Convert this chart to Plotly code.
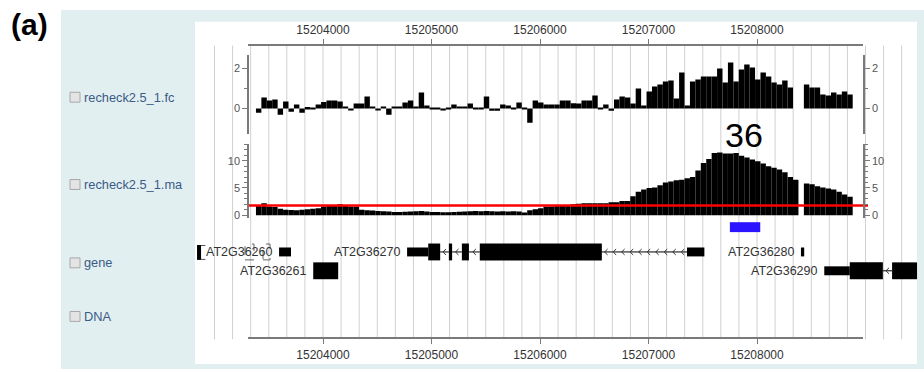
import numpy as np
import plotly.graph_objects as go

# ------------------------------------------------------------------ data
BIN_START = 15203382          # genomic start of the first probe bin (bp)
BIN_SIZE = 50                 # bp per bin

fc_values = [
    -0.2, 0.55, 0.4, 0.45, -0.3, 0.35, -0.15, 0.2, -0.2, 0.08,
    0.05, 0.2, 0.33, 0.4, 0.4, 0.35, 0.1, -0.05, 0.25, 0.25,
    0.6, 0.1, -0.05, 0.1, -0.3, 0.1, 0.1, 0.3, 0.4, 0.1,
    0.8, 0.15, 0.02, 0.05, -0.05, 0.05, 0.2, 0.1, 0.1, 0.25,
    0.05, 0.05, 0.6, -0.1, -0.1, 0.2, 0.15, 0.02, 0.3, 0.02,
    -0.7, 0.4, 0.3, 0.2, 0.2, 0.2, 0.4, 0.4, 0.27, 0.25,
    0.4, 0.4, 0.65, 0.05, 0.2, -0.1, 0.45, 0.6, 0.55, 0.25,
    1.0, 0.15, 0.85, 1.1, 1.2, 1.35, 1.4, 0.5, 1.8, 0.15,
    1.35, 1.45, 1.6, 1.6, 1.6, 2.0, 1.3, 2.3, 1.35, 1.95,
    2.2, 2.05, 1.45, 1.8, 1.6, 1.3, 1.2, 1.4, 1.05, None,
    None, 1.2, 1.05, 1.05, 0.7, 0.65, 0.8, 0.7, 0.85, 0.7,
]

ma_values = [
    1.8, 2.2, 1.6, 1.5, 1.2, 1.0, 0.95, 0.9, 1.0, 1.1,
    1.2, 1.3, 1.6, 1.7, 1.7, 2.0, 1.7, 1.6, 1.6, 1.0,
    0.9, 0.85, 0.8, 0.75, 0.7, 0.6, 0.6, 0.65, 0.7, 0.75,
    0.8, 0.7, 0.6, 0.6, 0.55, 0.55, 0.6, 0.65, 0.7, 0.75,
    0.8, 0.75, 0.8, 0.75, 0.7, 0.75, 0.7, 0.75, 0.7, 0.5,
    0.9, 1.1, 1.3, 1.6, 1.6, 1.7, 1.9, 1.9, 2.0, 2.1,
    2.2, 2.2, 2.2, 2.2, 2.2, 2.4, 2.4, 2.6, 2.6, 3.5,
    4.3, 4.7, 5.0, 5.1, 5.5, 6.0, 6.2, 6.4, 6.5, 6.8,
    7.0, 8.2, 9.6, 10.3, 11.4, 11.5, 11.3, 11.3, 11.4, 10.9,
    10.6, 10.2, 9.9, 9.5, 9.0, 8.7, 8.4, 7.9, 7.0, 6.5,
    None, 5.8, 5.7, 5.3, 5.1, 4.9, 4.7, 4.3, 3.8, 3.4,
]

MA_THRESHOLD = 1.8
PEAK_REGION = [15207750, 15208030]
PEAK_LABEL = "36"

X_TICK_VALS = [15204000, 15205000, 15206000, 15207000, 15208000]
X_TICK_TEXT = ["15204000", "15205000", "15206000", "15207000", "15208000"]
FC_TICKS = [0, 2]
MA_TICKS = [0, 5, 10]

TRACK_NAMES = ["recheck2.5_1.fc", "recheck2.5_1.ma", "gene", "DNA"]

GENE_NAMES = ["AT2G36260", "AT2G36261", "AT2G36270", "AT2G36280", "AT2G36290"]
GENE_ROWS = [0, 1, 0, 0, 1]
GENE_UTRS = [
    [[15203595, 15203705]],
    [],
    [[15204775, 15204970], [15207355, 15207515]],
    [[15208405, 15208435]],
    [[15208620, 15208855]],
]
GENE_CDS = [
    [],
    [[15203910, 15204140]],
    [[15204970, 15205080], [15205160, 15205190], [15205280, 15205345], [15205445, 15206570]],
    [],
    [[15208855, 15209160], [15209245, 15209475]],
]
PARTIAL_GENE = [15202839, 15202876]
OUTLINED_EXONS = [[15203281, 15203364], [15203447, 15203512]]

# ------------------------------------------------------------------ layout helpers
W, H = 924, 372
PX0, BP0, PX_PER_BP = 323, 15204000, 0.1085
FONT = "Arial, Liberation Sans, sans-serif"


def bp(px):
    return BP0 + (px - PX0) / PX_PER_BP


def py(p):
    return 1 - p / H


def pxx(p):
    return p / W


n = len(fc_values)
centers = BIN_START + BIN_SIZE * (np.arange(n) + 0.5)

fc_zero, fc_scale = 109.5, 20.25
fc_range = [(fc_zero - 135) / fc_scale, (fc_zero - 55) / fc_scale]
ma_zero, ma_scale = 217, 5.5
ma_range = [(ma_zero - 220) / ma_scale, (ma_zero - 145) / ma_scale]

fig = go.Figure()
fig.add_trace(go.Bar(x=centers, y=fc_values, width=BIN_SIZE, marker=dict(color="black", line=dict(width=0)),
                     xaxis="x", yaxis="y2", hoverinfo="skip"))
fig.add_trace(go.Scatter(x=[], y=[], xaxis="x", yaxis="y3"))
fig.add_trace(go.Bar(x=centers, y=ma_values, width=BIN_SIZE, marker=dict(color="black", line=dict(width=0)),
                     xaxis="x", yaxis="y4", hoverinfo="skip"))
fig.add_trace(go.Scatter(x=[bp(248), bp(868)], y=[MA_THRESHOLD, MA_THRESHOLD], mode="lines",
                         line=dict(color="#ff0000", width=2.5), xaxis="x", yaxis="y4", hoverinfo="skip"))
fig.add_trace(go.Scatter(x=[], y=[], xaxis="x", yaxis="y5"))
fig.add_trace(go.Scatter(x=[], y=[], xaxis="x2", yaxis="y6"))
fig.add_trace(go.Scatter(x=[], y=[], xaxis="x3", yaxis="y6"))

axstyle = dict(showline=True, linecolor="#7a7a7a", linewidth=1.5, ticks="outside", tickcolor="#7a7a7a",
               ticklen=5, tickwidth=1, showgrid=False, zeroline=False,
               tickfont=dict(size=11, color="#555555", family=FONT))
xstyle = dict(axstyle)
xstyle.update(linewidth=2, tickfont=dict(size=12, color="#333333", family=FONT))

shapes = []
annotations = []

# panel backgrounds
shapes.append(dict(type="rect", xref="paper", yref="paper", x0=pxx(61), x1=1, y0=0, y1=py(10),
                   fillcolor="#e2eff1", line=dict(width=0), layer="below"))
shapes.append(dict(type="rect", xref="paper", yref="paper", x0=pxx(195), x1=pxx(917), y0=py(367), y1=py(22),
                   fillcolor="white", line=dict(width=0), layer="below"))
# vertical grid lines
for k in range(-6, 33):
    gx = BP0 + k * 1000 / 6
    shapes.append(dict(type="line", xref="x", yref="paper", x0=gx, x1=gx, y0=py(342), y1=py(46),
                       line=dict(color="#d0d0d0", width=1), layer="below"))

# track labels with checkboxes
for name, ypx in zip(TRACK_NAMES, [98, 186, 265, 319]):
    shapes.append(dict(type="rect", xref="paper", yref="paper", x0=pxx(70), x1=pxx(80),
                       y0=py(ypx + 5), y1=py(ypx - 5), fillcolor="#e4e4e4",
                       line=dict(color="#a8a8a8", width=1)))
    annotations.append(dict(text=name, xref="paper", yref="paper", x=pxx(82), y=py(ypx), xanchor="left",
                            yanchor="middle", showarrow=False, font=dict(size=12.8, color="#3b5a86", family=FONT)))

# genes
ROW_Y = [254, 273]
for name, row, utrs, cds in zip(GENE_NAMES, GENE_ROWS, GENE_UTRS, GENE_CDS):
    yc = ROW_Y[row]
    feats = sorted([(s, e, 4.5) for s, e in utrs] + [(s, e, 8.5) for s, e in cds])
    for i, (s, e, h) in enumerate(feats):
        shapes.append(dict(type="rect", xref="x", yref="paper", x0=s, x1=e, y0=py(yc + h), y1=py(yc - h),
                           fillcolor="black", line=dict(width=0)))
        if i + 1 < len(feats) and feats[i + 1][0] > e:
            a, b = e, feats[i + 1][0]
            shapes.append(dict(type="line", xref="x", yref="paper", x0=a, x1=b, y0=py(yc), y1=py(yc),
                               line=dict(color="black", width=1)))
            length_px = (b - a) * PX_PER_BP
            m = max(1, int(length_px / 8.5))
            step = (b - a) / m
            for j in range(m):
                cx = a + step * (j + 0.5) - 1.5 / PX_PER_BP
                dx = 3 / PX_PER_BP
                shapes.append(dict(type="path", xref="x", yref="paper",
                                   path=f"M {cx + dx},{py(yc - 3)} L {cx},{py(yc)} L {cx + dx},{py(yc + 3)}",
                                   line=dict(color="#333333", width=1)))
    annotations.append(dict(text=name, xref="x", yref="paper", x=feats[0][0] - 4 / PX_PER_BP, y=py(yc),
                            xanchor="right", yanchor="middle", showarrow=False,
                            font=dict(size=12.5, color="#333333", family=FONT)))

# partial gene at left edge
shapes.append(dict(type="rect", xref="x", yref="paper", x0=PARTIAL_GENE[0], x1=PARTIAL_GENE[1],
                   y0=py(262), y1=py(247), fillcolor="black", line=dict(width=0)))
for yy in (247.5, 261.5):
    shapes.append(dict(type="line", xref="x", yref="paper", x0=PARTIAL_GENE[1], x1=PARTIAL_GENE[1] + 40,
                       y0=py(yy), y1=py(yy), line=dict(color="#555555", width=1)))
for s, e in OUTLINED_EXONS:
    shapes.append(dict(type="rect", xref="x", yref="paper", x0=s, x1=e, y0=py(262), y1=py(246),
                       line=dict(color="#666666", width=1, dash="dash"), fillcolor="rgba(0,0,0,0)"))

# peak region
shapes.append(dict(type="rect", xref="x", yref="paper", x0=PEAK_REGION[0], x1=PEAK_REGION[1],
                   y0=py(234), y1=py(224), fillcolor="#2b14ff", line=dict(width=0)))
annotations.append(dict(text=PEAK_LABEL, xref="x", yref="paper", x=sum(PEAK_REGION) / 2 - 1 / PX_PER_BP,
                        y=py(136), showarrow=False, xanchor="center", yanchor="middle",
                        font=dict(size=34, color="black", family=FONT)))
annotations.append(dict(text="<b>(a)</b>", xref="paper", yref="paper", x=pxx(29), y=py(25), showarrow=False,
                        xanchor="center", yanchor="middle", font=dict(size=30, color="black", family=FONT)))

fig.update_layout(
    width=W, height=H, margin=dict(l=0, r=0, t=0, b=0), autosize=False,
    paper_bgcolor="white", plot_bgcolor="rgba(0,0,0,0)", showlegend=False,
    xaxis=dict(domain=[0, 1], range=[bp(0), bp(W)], visible=False, anchor="y2"),
    xaxis2=dict(domain=[pxx(248), pxx(863)], range=[bp(248), bp(863)], side="top", anchor="free",
                position=py(45), tickmode="array", tickvals=X_TICK_VALS, ticktext=X_TICK_TEXT, **xstyle),
    xaxis3=dict(domain=[pxx(248), pxx(863)], range=[bp(248), bp(863)], side="bottom", anchor="free",
                position=py(341), tickmode="array", tickvals=X_TICK_VALS, ticktext=X_TICK_TEXT, **xstyle),
    yaxis2=dict(domain=[py(135), py(55)], range=fc_range, anchor="free", position=pxx(248),
                tickmode="array", tickvals=FC_TICKS,
                minor=dict(tickvals=[1], ticks="outside", ticklen=3, tickcolor="#7a7a7a"), **axstyle),
    yaxis3=dict(overlaying="y2", side="right", anchor="free", position=pxx(864), range=fc_range,
                tickmode="array", tickvals=FC_TICKS,
                minor=dict(tickvals=[1], ticks="outside", ticklen=3, tickcolor="#7a7a7a"), **axstyle),
    yaxis4=dict(domain=[py(220), py(145)], range=ma_range, anchor="free", position=pxx(248),
                tickmode="array", tickvals=MA_TICKS,
                minor=dict(dtick=1, ticks="outside", ticklen=3, tickcolor="#7a7a7a"), **axstyle),
    yaxis5=dict(overlaying="y4", side="right", anchor="free", position=pxx(864), range=ma_range,
                tickmode="array", tickvals=MA_TICKS,
                minor=dict(dtick=1, ticks="outside", ticklen=3, tickcolor="#7a7a7a"), **axstyle),
    yaxis6=dict(domain=[0, 1], range=[0, 1], visible=False),
    shapes=shapes, annotations=annotations,
)

fig.write_html("out.html")
